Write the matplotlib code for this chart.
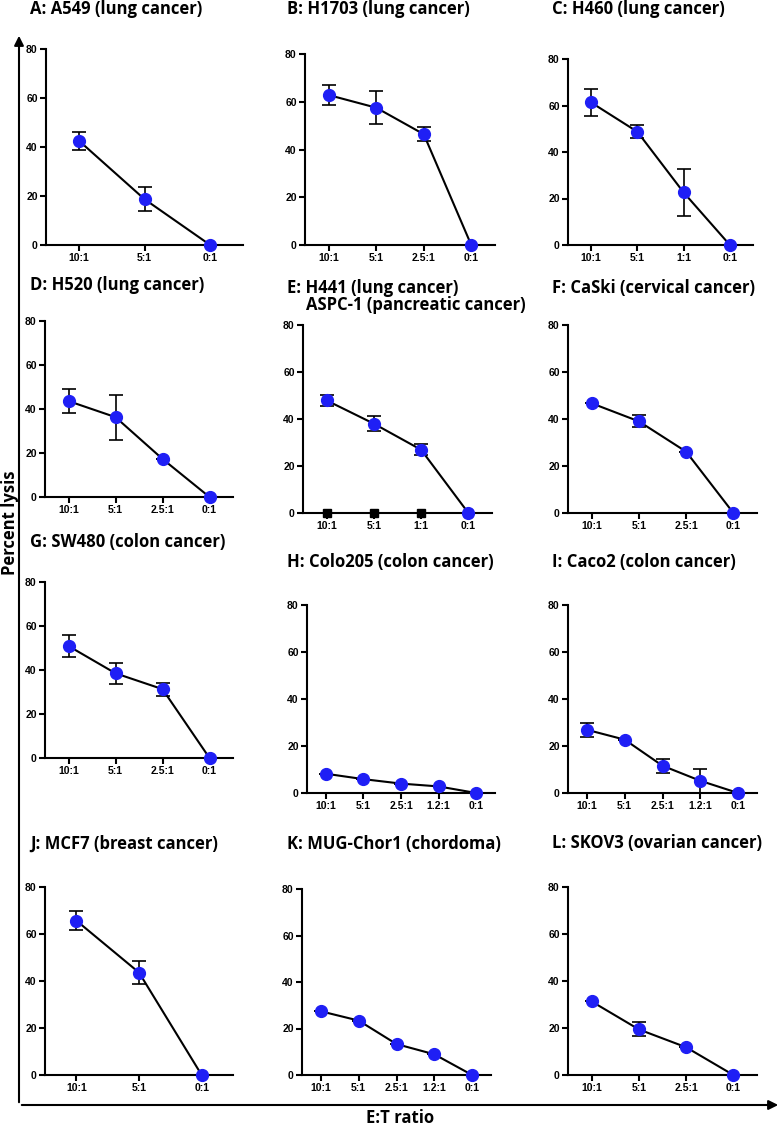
import numpy as np
import matplotlib.pyplot as plt
from matplotlib.patches import FancyArrowPatch

plt.rcParams['font.family'] = ['Liberation Sans', 'DejaVu Sans']
plt.rcParams['font.weight'] = 'bold'

# panel titles
titles = ['A: A549 (lung cancer)', 'B: H1703 (lung cancer)', 'C: H460 (lung cancer)',
          'D: H520 (lung cancer)', 'E: H441 (lung cancer)', 'F: CaSki (cervical cancer)',
          'G: SW480 (colon cancer)', 'H: Colo205 (colon cancer)', 'I: Caco2 (colon cancer)',
          'J: MCF7 (breast cancer)', 'K: MUG-Chor1 (chordoma)', 'L: SKOV3 (ovarian cancer)']
title_e2 = 'ASPC-1 (pancreatic cancer)'

# E:T ratios per panel
ratios = [['10:1', '5:1', '0:1'],
          ['10:1', '5:1', '2.5:1', '0:1'],
          ['10:1', '5:1', '1:1', '0:1'],
          ['10:1', '5:1', '2.5:1', '0:1'],
          ['10:1', '5:1', '1:1', '0:1'],
          ['10:1', '5:1', '2.5:1', '0:1'],
          ['10:1', '5:1', '2.5:1', '0:1'],
          ['10:1', '5:1', '2.5:1', '1.2:1', '0:1'],
          ['10:1', '5:1', '2.5:1', '1.2:1', '0:1'],
          ['10:1', '5:1', '0:1'],
          ['10:1', '5:1', '2.5:1', '1.2:1', '0:1'],
          ['10:1', '5:1', '2.5:1', '0:1']]

# mean percent lysis
lysis = [[42.6, 18.7, 0],
         [62.8, 57.5, 46.4, 0],
         [61.3, 48.7, 22.6, 0],
         [43.6, 36.3, 17.3, 0],
         [47.9, 38.0, 26.9, 0],
         [46.7, 39.0, 26.1, 0],
         [50.9, 38.5, 31.3, 0],
         [8.2, 5.9, 4.0, 2.8, 0],
         [26.9, 22.7, 11.6, 5.2, 0],
         [65.7, 43.6, 0],
         [27.4, 23.4, 13.3, 8.9, 0],
         [31.3, 19.4, 11.8, 0]]

# error bars (SD)
errs = [[3.7, 4.9, 0],
        [4.2, 6.9, 3.0, 0],
        [5.8, 2.7, 10.3, 0],
        [5.5, 10.2, 0, 0],
        [2.5, 3.1, 2.4, 0],
        [0, 2.5, 0, 0],
        [5.0, 4.9, 3.0, 0],
        [0, 0, 0, 0, 0],
        [3.0, 0, 2.9, 5.0, 0],
        [4.2, 5.0, 0],
        [0, 0, 0, 0, 0],
        [0, 3.0, 0, 0]]

# ASPC-1 in panel E
aspc1_lysis = [0, 0, 0, 0]

W, H = 782, 1127
fig = plt.figure(figsize=(W / 100, H / 100), dpi=100)

# panel boxes in pixels: (axis x, top, zero, right end)
boxes = [(46, 49, 245, 243), (305, 54, 245, 495), (568, 59, 245, 753),
         (45, 321, 497, 233), (303, 325, 513, 492), (568, 325, 513, 757),
         (45, 582, 758, 233), (307, 605, 793, 495), (568, 605, 793, 757),
         (45, 887, 1075, 233), (302, 889, 1075, 491), (568, 887, 1075, 757)]
title_pos = [(30, 9), (287, 9), (552, 9),
             (30, 285), (287, 288), (552, 288),
             (30, 542), (287, 562), (552, 562),
             (30, 844), (287, 844), (552, 843)]

tfont = dict(family='Open Sans', fontweight='bold', fontsize=12)
blue = '#1f1ff5'

for i in range(12):
    x0, top, zero, x1 = boxes[i]
    ax = fig.add_axes([x0 / W, 1 - zero / H, (x1 - x0) / W, (zero - top) / H])
    xs = np.arange(len(ratios[i]))
    if i == 4:
        ax.plot(xs, aspc1_lysis, 's', color='black', markersize=6, clip_on=False, zorder=3)
    ax.errorbar(xs, lysis[i], yerr=errs[i], color='black', lw=1.5, elinewidth=1.2,
                capsize=5, capthick=1.2, fmt='-', zorder=2, clip_on=False)
    ax.plot(xs, lysis[i], 'o', color=blue, markersize=8.5, clip_on=False, zorder=4)
    ax.set_xlim(-0.5, len(xs) - 0.5)
    ax.set_ylim(0, 80)
    ax.set_yticks([0, 20, 40, 60, 80])
    ax.set_xticks(xs)
    ax.set_xticklabels(ratios[i])
    for s in ['top', 'right']:
        ax.spines[s].set_visible(False)
    for s in ['left', 'bottom']:
        ax.spines[s].set_linewidth(1.5)
    ax.tick_params(direction='out', length=4, width=1.5, pad=2, labelsize=7.5)
    tx, ty = title_pos[i]
    fig.text(tx / W, 1 - ty / H, titles[i], ha='left', va='center', **tfont)
    if i == 4:
        fig.text(306 / W, 1 - 305 / H, title_e2, ha='left', va='center', **tfont)

# outer axes with arrows
ox, oy = 19, 1105
fig.add_artist(FancyArrowPatch((ox / W, 1 - oy / H), (ox / W, 1 - 33 / H),
                               transform=fig.transFigure, arrowstyle='-|>',
                               mutation_scale=14, lw=1.5, color='black'))
fig.add_artist(FancyArrowPatch((ox / W, 1 - oy / H), (781 / W, 1 - oy / H),
                               transform=fig.transFigure, arrowstyle='-|>',
                               mutation_scale=14, lw=1.5, color='black'))
fig.text(10 / W, 1 - 523 / H, 'Percent lysis', rotation=90, ha='center', va='center',
         family='Open Sans', fontweight='bold', fontsize=12)
fig.text(400 / W, 1 - 1118 / H, 'E:T ratio', ha='center', va='center',
         family='Open Sans', fontweight='bold', fontsize=12)

fig.savefig('out.png', dpi=100)
